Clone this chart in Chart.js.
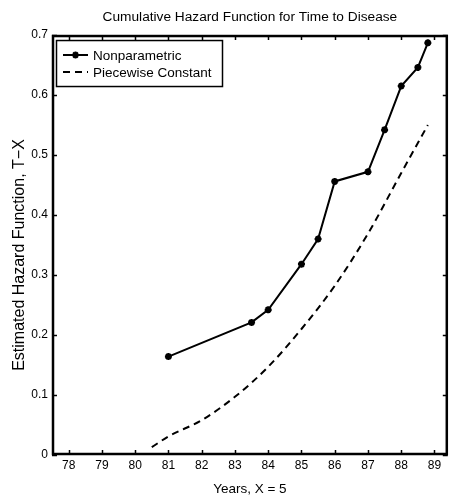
<!DOCTYPE html>
<html>
<head>
<meta charset="utf-8">
<script src="https://cdn.jsdelivr.net/npm/chart.js@4/dist/chart.umd.min.js"></script>
<style>
  body { margin: 0; background: #fff; }
  canvas { display: block; }
</style>
</head>
<body>
<canvas id="hazardChart" width="454" height="501"></canvas>
<script>
// nonparametric estimate at each event time
const eventYears = [81, 83.5, 84, 85, 85.5, 86, 87, 87.5, 88, 88.5, 88.8];
const nonparametric = [0.164, 0.221, 0.242, 0.318, 0.36, 0.456, 0.472, 0.542, 0.615, 0.646, 0.687];

// piecewise constant hazard, cumulative
const pcYears = [80.5, 81, 82, 83, 84, 85, 86, 87, 88, 88.8];
const piecewise = [0.013, 0.031, 0.058, 0.097, 0.147, 0.21, 0.282, 0.369, 0.47, 0.55];

const xTicks = [78, 79, 80, 81, 82, 83, 84, 85, 86, 87, 88, 89];
const yTicks = [0, 0.1, 0.2, 0.3, 0.4, 0.5, 0.6, 0.7];

const FONT = '"Liberation Sans", Arial, Helvetica, sans-serif';
const yLabel = 'Estimated Hazard Function, T\u2212X';

// box + inward ticks like a matlab axes, y label, and the legend in the top-left corner
const framePlugin = {
    id: 'frame',
    afterDraw(chart) {
        const { ctx, chartArea: a, scales } = chart;
        ctx.save();
        ctx.strokeStyle = '#000';
        ctx.lineWidth = 1.5;
        const tl = 5;
        ctx.beginPath();
        xTicks.forEach(v => {
            const px = Math.round(scales.x.getPixelForValue(v)) + 0.5;
            ctx.moveTo(px, a.bottom); ctx.lineTo(px, a.bottom - tl);
            ctx.moveTo(px, a.top); ctx.lineTo(px, a.top + tl);
        });
        yTicks.forEach(v => {
            const py = Math.round(scales.y.getPixelForValue(v)) + 0.5;
            ctx.moveTo(a.left, py); ctx.lineTo(a.left + tl, py);
            ctx.moveTo(a.right, py); ctx.lineTo(a.right - tl, py);
        });
        ctx.stroke();

        ctx.lineWidth = 2.5;
        ctx.strokeRect(a.left + 1, a.top + 1, a.right - a.left - 2, a.bottom - a.top - 2);

        // rotated y axis label
        ctx.save();
        ctx.translate(20, (a.top + a.bottom) / 2 + 10);
        ctx.rotate(-Math.PI / 2);
        ctx.font = '16px ' + FONT;
        ctx.fillStyle = '#000';
        ctx.textAlign = 'center';
        ctx.textBaseline = 'middle';
        ctx.fillText(yLabel, 0, 0);
        ctx.restore();

        // legend
        const lx = a.left + 4, ly = a.top + 5, lw = 166, lh = 46;
        ctx.fillStyle = '#fff';
        ctx.fillRect(lx, ly, lw, lh);
        ctx.lineWidth = 1.5;
        ctx.strokeRect(lx + 0.5, ly + 0.5, lw, lh);
        ctx.font = '13.5px ' + FONT;
        ctx.textBaseline = 'middle';
        chart.data.datasets.forEach((ds, i) => {
            const cy = ly + 15 + i * 17;
            ctx.strokeStyle = '#000';
            ctx.lineWidth = 2;
            ctx.setLineDash(ds.borderDash || []);
            ctx.beginPath();
            ctx.moveTo(lx + 7, cy); ctx.lineTo(lx + 32, cy);
            ctx.stroke();
            ctx.setLineDash([]);
            if (ds.pointRadius > 0) {
                Chart.helpers.drawPoint(ctx, {
                    pointStyle: ds.pointStyle,
                    radius: ds.pointRadius,
                    borderWidth: ds.pointBorderWidth
                }, lx + 19.5, cy);
            }
            ctx.fillStyle = '#000';
            ctx.fillText(ds.label, lx + 37, cy + 1);
        });
        ctx.restore();
    }
};

new Chart(document.getElementById('hazardChart'), {
    type: 'line',
    data: {
        datasets: [{
            label: 'Nonparametric',
            data: eventYears.map((x, i) => ({ x: x, y: nonparametric[i] })),
            borderColor: '#000',
            backgroundColor: '#000',
            borderWidth: 2,
            pointStyle: 'star',
            pointRadius: 3.5,
            pointBorderWidth: 2.2,
            tension: 0
        }, {
            label: 'Piecewise Constant',
            data: pcYears.map((x, i) => ({ x: x, y: piecewise[i] })),
            borderColor: '#000',
            borderWidth: 2,
            borderDash: [7, 5],
            pointRadius: 0,
            cubicInterpolationMode: 'monotone'
        }]
    },
    options: {
        responsive: false,
        animation: false,
        layout: { padding: { left: 0, right: 0, top: 0, bottom: 0 } },
        scales: {
            x: {
                type: 'linear',
                min: 77.5,
                max: 89.4,
                afterFit: s => { s.height = 46; },
                afterBuildTicks: s => { s.ticks = xTicks.map(v => ({ value: v })); },
                ticks: { color: '#000', font: { family: FONT, size: 12 }, padding: 3, maxRotation: 0 },
                grid: { display: false, drawTicks: false },
                border: { display: false },
                title: { display: true, text: 'Years, X = 5', color: '#000', font: { family: FONT, size: 13.5 }, padding: { bottom: 4, top: 0 } }
            },
            y: {
                min: 0,
                max: 0.7,
                afterFit: s => { s.width = 52; },
                afterBuildTicks: s => { s.ticks = yTicks.map(v => ({ value: v })); },
                ticks: {
                    color: '#000',
                    font: { family: FONT, size: 12 },
                    padding: 4,
                    callback: v => v === 0 ? '0' : v.toFixed(1)
                },
                grid: { display: false, drawTicks: false },
                border: { display: false },
                title: { display: false }
            }
        },
        plugins: {
            legend: { display: false },
            tooltip: { enabled: false },
            title: {
                display: true,
                fullSize: false,
                text: 'Cumulative Hazard Function for Time to Disease',
                color: '#000',
                font: { family: FONT, size: 13.7, weight: 'normal', lineHeight: 1.25 },
                padding: { top: 9, bottom: 8.9 }
            }
        }
    },
    plugins: [framePlugin]
});
</script>
</body>
</html>
